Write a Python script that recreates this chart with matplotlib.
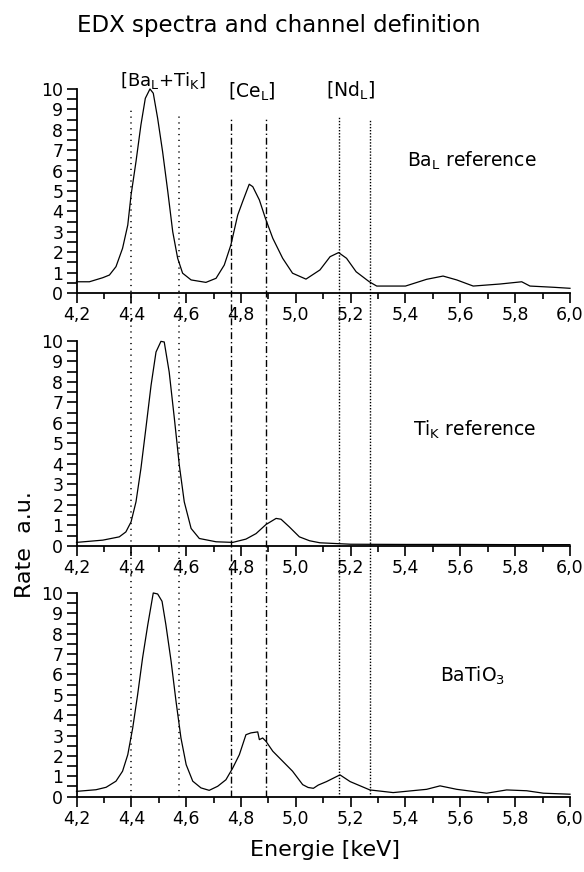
import numpy as np
import matplotlib.pyplot as plt
from matplotlib.ticker import MultipleLocator

plt.rcParams.update({'font.family': 'DejaVu Sans', 'font.size': 12.5})

x_ticks = [4.2, 4.4, 4.6, 4.8, 5.0, 5.2, 5.4, 5.6, 5.8, 6.0]
x_tick_labels = ["4,2", "4,4", "4,6", "4,8", "5,0", "5,2", "5,4", "5,6", "5,8", "6,0"]
y_ticks = [0, 1, 2, 3, 4, 5, 6, 7, 8, 9, 10]

# Ba_L reference spectrum
ba_x = [4.20, 4.247, 4.296, 4.32, 4.344, 4.368, 4.387, 4.399, 4.417, 4.435, 4.451, 4.468,
        4.48, 4.496, 4.514, 4.533, 4.551, 4.569, 4.587, 4.618, 4.672, 4.709, 4.739, 4.763,
        4.788, 4.806, 4.83, 4.843, 4.867, 4.889, 4.916, 4.952, 4.988, 5.037, 5.088, 5.125,
        5.156, 5.185, 5.22, 5.268, 5.295, 5.40, 5.477, 5.537, 5.587, 5.647, 5.745, 5.824,
        5.854, 5.94, 6.0]
ba_y = [0.55, 0.55, 0.75, 0.88, 1.29, 2.19, 3.33, 4.8, 6.44, 8.24, 9.54, 10.0,
        9.79, 8.56, 6.93, 4.97, 3.0, 1.70, 0.97, 0.64, 0.52, 0.72, 1.37, 2.35,
        3.82, 4.48, 5.33, 5.21, 4.56, 3.66, 2.68, 1.70, 0.97, 0.68, 1.13, 1.78,
        1.98, 1.70, 1.04, 0.55, 0.34, 0.34, 0.67, 0.83, 0.64, 0.34, 0.44, 0.55,
        0.34, 0.28, 0.23]

# Ti_K reference spectrum
ti_x = [4.20, 4.296, 4.356, 4.38, 4.399, 4.417, 4.435, 4.453, 4.472, 4.49, 4.508, 4.52,
        4.538, 4.557, 4.575, 4.593, 4.618, 4.648, 4.709, 4.77, 4.818, 4.855, 4.891, 4.928,
        4.946, 4.976, 5.013, 5.05, 5.088, 5.2, 5.4, 5.6, 5.8, 6.0]
ti_y = [0.17, 0.28, 0.44, 0.68, 1.17, 2.15, 3.78, 5.73, 7.84, 9.46, 9.98, 9.95,
        8.49, 6.21, 3.94, 2.15, 0.85, 0.36, 0.2, 0.17, 0.33, 0.6, 1.04, 1.34,
        1.30, 0.93, 0.44, 0.25, 0.15, 0.08, 0.07, 0.07, 0.06, 0.06]

# BaTiO3 spectrum
bt_x = [4.20, 4.271, 4.308, 4.344, 4.368, 4.387, 4.405, 4.423, 4.441, 4.46, 4.48, 4.496,
        4.512, 4.526, 4.545, 4.563, 4.581, 4.60, 4.624, 4.654, 4.684, 4.715, 4.745, 4.77,
        4.794, 4.818, 4.836, 4.861, 4.867, 4.879, 4.891, 4.916, 4.952, 4.988, 5.025, 5.045,
        5.064, 5.082, 5.112, 5.161, 5.198, 5.27, 5.355, 5.477, 5.526, 5.587, 5.696, 5.769,
        5.842, 5.903, 6.0]
bt_y = [0.26, 0.34, 0.46, 0.76, 1.25, 2.06, 3.37, 5.01, 6.81, 8.44, 10.0, 9.95,
        9.59, 8.44, 6.65, 4.68, 2.88, 1.57, 0.76, 0.43, 0.31, 0.51, 0.83, 1.41,
        2.06, 3.04, 3.13, 3.18, 2.80, 2.88, 2.72, 2.23, 1.74, 1.25, 0.59, 0.45,
        0.41, 0.57, 0.74, 1.07, 0.74, 0.33, 0.2, 0.36, 0.53, 0.36, 0.17, 0.33,
        0.29, 0.17, 0.12]

spectra = [(ba_x, ba_y), (ti_x, ti_y), (bt_x, bt_y)]

# channel boundaries (keV)
ba_ti_channel = [4.40, 4.575]
ce_channel = [4.765, 4.89]
nd_channel = [5.158, 5.27]

fig = plt.figure(figsize=(5.84, 8.72), dpi=100)
rects = [[0.131, 0.664, 0.845, 0.234],
         [0.131, 0.374, 0.845, 0.235],
         [0.131, 0.0864, 0.845, 0.2336]]
axes = []
for rect, (xs, ys) in zip(rects, spectra):
    ax = fig.add_axes(rect)
    ax.plot(xs, ys, color="black", lw=0.9, clip_on=False)
    ax.set_xlim(4.2, 6.0)
    ax.set_ylim(0, 10)
    ax.set_xticks(x_ticks)
    ax.set_xticklabels(x_tick_labels)
    ax.set_yticks(y_ticks)
    ax.xaxis.set_minor_locator(MultipleLocator(0.1))
    ax.yaxis.set_minor_locator(MultipleLocator(0.5))
    ax.tick_params(which="major", direction="out", length=7, width=1.2, pad=2.5)
    ax.tick_params(axis="x", which="minor", direction="out", length=4.5, width=1.2)
    ax.tick_params(axis="y", which="minor", direction="out", length=7, width=1.2)
    ax.spines["top"].set_visible(False)
    ax.spines["right"].set_visible(False)
    ax.spines["left"].set_linewidth(1.3)
    ax.spines["bottom"].set_linewidth(1.3)
    ax.patch.set_alpha(0)
    axes.append(ax)

# channel lines run through all three panels
ax_ch = fig.add_axes([0.131, 0.0864, 0.845, 0.812])
ax_ch.set_xlim(4.2, 6.0)
ax_ch.set_ylim(0, 1)
ax_ch.axis("off")
ax_ch.axvline(ba_ti_channel[0], 0, 0.973, color="black", lw=1.1, ls=(0, (0.8, 3.0)))
ax_ch.axvline(ba_ti_channel[1], 0, 0.967, color="black", lw=1.1, ls=(0, (0.8, 3.0)))
for x in ce_channel:
    ax_ch.axvline(x, 0, 0.960, color="black", lw=1.0, ls=(0, (5, 2, 1, 2)))
ax_ch.axvline(nd_channel[0], 0, 0.962, color="black", lw=1.0, ls=(0, (1, 1.2)))
ax_ch.axvline(nd_channel[1], 0, 0.956, color="black", lw=1.0, ls=(0, (1, 1.2)))

fig.text(0.132, 0.963, "EDX spectra and channel definition", fontsize=16.5, va="baseline")
fig.text(0.2055, 0.901, r"[Ba$_\mathregular{L}$+Ti$_\mathregular{K}$]", fontsize=13, va="baseline")
fig.text(0.390, 0.888, r"[Ce$_\mathregular{L}$]", fontsize=13.5, va="baseline")
fig.text(0.558, 0.889, r"[Nd$_\mathregular{L}$]", fontsize=13.5, va="baseline")

axes[0].text(5.405, 6.18, r"Ba$_\mathregular{L}$ reference", fontsize=13.5, va="baseline")
axes[1].text(5.427, 5.4, r"Ti$_\mathregular{K}$ reference", fontsize=13.5, va="baseline")
axes[2].text(5.526, 5.63, r"BaTiO$_\mathregular{3}$", fontsize=13.5, va="baseline")

fig.text(0.043, 0.376, "Rate  a.u.", fontsize=16, rotation=90, ha="center", va="center")
fig.text(0.556, 0.025, "Energie [keV]", fontsize=16, ha="center", va="center")

fig.savefig("out.png", dpi=100)
